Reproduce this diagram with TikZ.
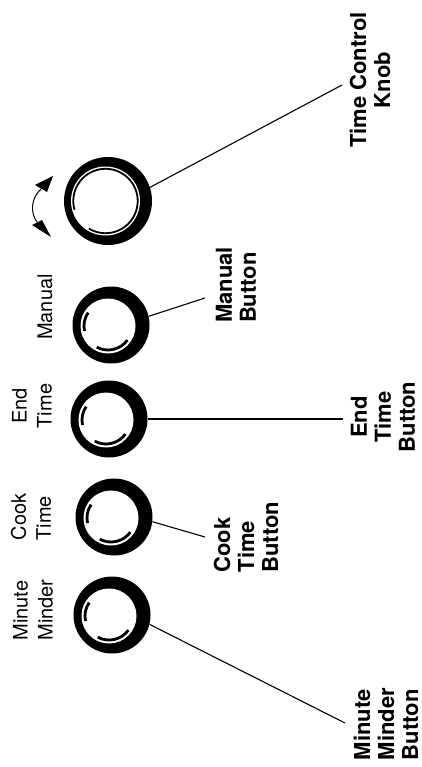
\documentclass[tikz,border=0pt]{standalone}
\usepackage{fontspec}
\setmainfont{TeX Gyre Heros}

\begin{document}
\begin{tikzpicture}[
    x=1pt, y=-1pt, % pixel grid, y runs down
    button/.style={circle, fill=black, minimum size=77pt, inner sep=0pt,
      path picture={
        \coordinate (btnc) at ([shift={(-3,1)}]path picture bounding box.center);
        \fill[white] (btnc) circle[radius=27.5];
        \draw[line width=2.8pt] ([shift={(168:24)}]btnc) arc[start angle=168, end angle=214, radius=24];
        \draw[line width=2.8pt] ([shift={(36:24)}]btnc) arc[start angle=36, end angle=118, radius=24];
      }}, % push button with thick rim and highlights
    knob/.style={circle, fill=black, minimum size=88pt, inner sep=0pt,
      path picture={
        \coordinate (knobc) at ([shift={(-2.5,0)}]path picture bounding box.center);
        \fill[white] (knobc) circle[radius=34.5];
        \draw[line width=1.8pt] ([shift={(164:32.2)}]knobc) arc[start angle=164, end angle=481, radius=32.2];
      }}, % rotary knob
    toplabel/.style={rotate=90, inner sep=0pt, font=\fontsize{20}{25}\selectfont}, % printed on the panel
    partlabel/.style={rotate=90, inner sep=0pt, font=\fontsize{22}{24}\selectfont\bfseries}, % callout names
    leader/.style={line width=1.1pt}, % callout lines
    turn/.style={line width=1pt} % turning arc
]
\useasboundingbox (0,0) rectangle (422,767);

% controls
\node[knob] (knob) at (108,201) {};
\node[button] (manual) at (111,325) {};
\node[button] (endtime) at (109,419) {};
\node[button] (cooktime) at (114,517) {};
\node[button] (minder) at (112,615) {};

% panel texts
\node[toplabel] (manualtxt) at (45,307) {Manual};
\node[toplabel, align=center] (endtxt) at (32,406) {End\\Time};
\node[toplabel, align=left] (cooktxt) at (31,517) {Cook\\Time};
\node[toplabel, align=left] (mindertxt) at (33,610) {Minute\\Minder};

% part names
\node[partlabel, align=center] (knobname) at (370,80) {Time Control\\Knob};
\node[partlabel, align=left] (manualname) at (236,285) {Manual\\Button};
\node[partlabel, align=center] (endname) at (383,417) {End\\Time\\Button};
\node[partlabel, align=left] (cookname) at (246,537) {Cook\\Time\\Button};
\node[partlabel, align=left] (mindername) at (386,724) {Minute\\Minder\\Button};

% callout lines
\coordinate (knobtip) at (342,85);
\coordinate (manualtip) at (205,298);
\coordinate (endtip) at (343,419);
\coordinate (cooktip) at (205,537);
\coordinate (mindertip) at (345,723);
\draw[leader] (knob.18) -- (knobtip);
\draw[leader] (manual.13) -- (manualtip);
\draw[leader] (endtime.east) -- (endtip);
\draw[leader] (cooktime.-7) -- (cooktip);
\draw[leader] (minder.-14) -- (mindertip);

% turning arrow beside the knob
\coordinate (turntop) at (41,189);
\coordinate (turnbot) at (37,222);
\draw[turn] (turntop) .. controls (31,198) and (30,213) .. (turnbot);
\fill (53,176) -- (35,185) -- (47,192) -- cycle;
\fill (51,237) -- (32,225) -- (42,220) -- cycle;
\end{tikzpicture}
\end{document}
